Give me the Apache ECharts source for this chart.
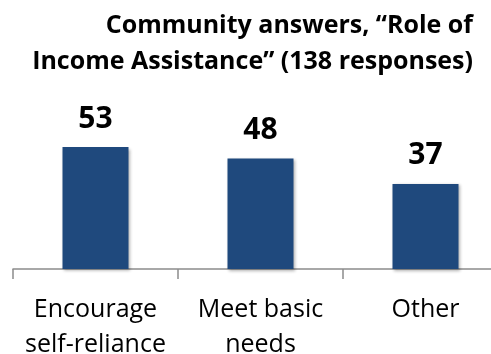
<!DOCTYPE html>
<html>
<head>
<meta charset="utf-8">
<script src="https://cdn.jsdelivr.net/npm/echarts@6/dist/echarts.min.js"></script>
<style>
  html, body { margin: 0; padding: 0; background: #fff; }
  #chart { width: 491px; height: 354px; }
</style>
</head>
<body>
<div id="chart"></div>
<script>
// Survey answers on the role of income assistance
const titleLines = ['Community answers, \u201cRole of', 'Income Assistance\u201d (138 responses)'];
const categories = ['Encourage\nself-reliance', 'Meet basic\nneeds', 'Other'];
const responses = [53, 48, 37];

const chart = echarts.init(document.getElementById('chart'), null, { renderer: 'canvas' });

chart.setOption({
  animation: false,
  backgroundColor: '#ffffff',
  graphic: [{
    type: 'text',
    style: {
      x: 473,
      y: 8,
      text: titleLines.join('\n'),
      textAlign: 'right',
      textVerticalAlign: 'top',
      fontFamily: 'Open Sans',
      fontWeight: 'bold',
      fontSize: 25,
      lineHeight: 36,
      fill: '#000000'
    }
  }],
  grid: { left: 13, width: 495, top: 131, bottom: 85, containLabel: false, outerBoundsMode: 'none' },
  xAxis: {
    type: 'category',
    data: categories,
    axisLine: { show: true, lineStyle: { color: '#8c8c8c', width: 1.5 } },
    axisTick: { show: true, length: 10, alignWithLabel: false, lineStyle: { color: '#8c8c8c', width: 1.5 } },
    axisLabel: {
      interval: 0,
      margin: 23,
      fontFamily: 'Open Sans',
      fontSize: 25,
      lineHeight: 35,
      color: '#000000'
    }
  },
  yAxis: {
    type: 'value',
    min: 0,
    max: 60,
    show: false,
    splitLine: { show: false }
  },
  series: [{
    type: 'bar',
    data: responses,
    barWidth: 66,
    itemStyle: {
      color: '#1F497D',
      shadowColor: 'rgba(0,0,0,0.3)',
      shadowBlur: 3,
      shadowOffsetX: 1.5,
      shadowOffsetY: 1.5
    },
    label: {
      show: true,
      position: 'top',
      distance: 13,
      fontFamily: 'Open Sans',
      fontWeight: 'bold',
      fontSize: 30,
      color: '#000000'
    }
  }]
});
</script>
</body>
</html>
